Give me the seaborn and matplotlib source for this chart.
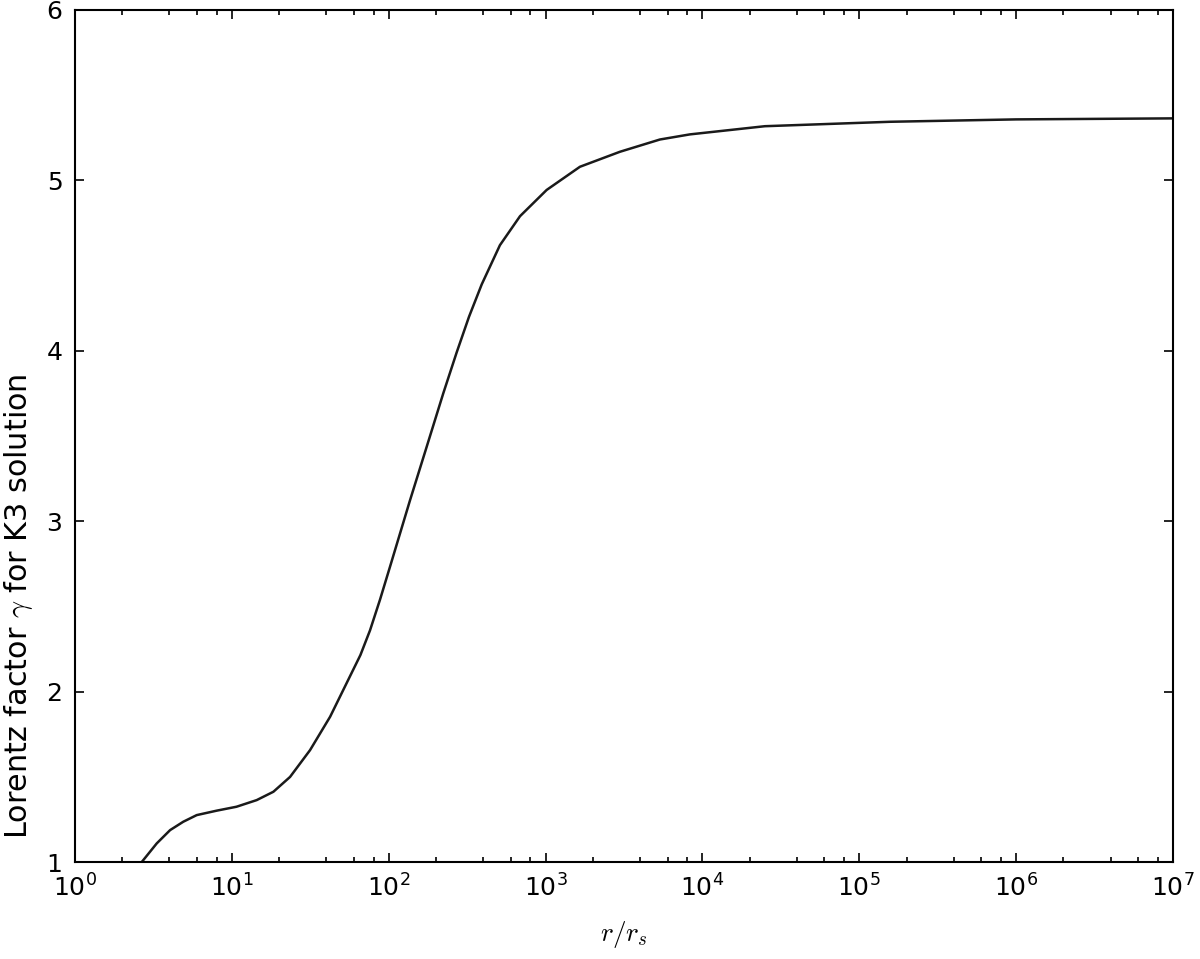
import matplotlib
matplotlib.use("Agg")
import matplotlib.pyplot as plt
import matplotlib.ticker as mticker
import seaborn as sns
import pandas as pd

# radius r/r_s
r_values = [2.66, 3.32, 4.04, 4.90, 5.97, 8.00, 10.7, 14.4, 18.4, 23.5,
            31.5, 42.3, 56.6, 66.0, 76.0, 88.0, 101.9, 136.8, 174.6, 222.8,
            271.0, 325.0, 391.7, 511.7, 687.1, 1016, 1656, 2979, 5358, 8318,
            25000, 157000, 1.0e6, 1.0e7]
# Lorentz factor gamma
gamma_values = [1.00, 1.11, 1.188, 1.237, 1.276, 1.302, 1.325, 1.364, 1.413, 1.50,
                1.657, 1.853, 2.09, 2.215, 2.36, 2.54, 2.733, 3.124, 3.437, 3.751,
                3.99, 4.20, 4.39, 4.62, 4.79, 4.944, 5.080, 5.168, 5.240, 5.270,
                5.318, 5.344, 5.358, 5.364]

x_ticks = [1, 10, 100, 1e3, 1e4, 1e5, 1e6, 1e7]
y_ticks = [1, 2, 3, 4, 5, 6]

sns.set_theme(style="ticks")
plt.rcParams.update({
    "font.family": ["DejaVu Sans"],
    "mathtext.fontset": "cm",
    "font.size": 12,
    "axes.edgecolor": "black",
    "axes.linewidth": 1.0,
    "xtick.direction": "in",
    "ytick.direction": "in",
    "xtick.top": True,
    "ytick.right": True,
    "xtick.major.size": 4.5,
    "ytick.major.size": 4.5,
    "xtick.minor.size": 2.2,
    "ytick.minor.size": 2.2,
    "xtick.major.width": 0.8,
    "ytick.major.width": 0.8,
    "xtick.minor.width": 0.8,
    "xtick.major.pad": 6,
    "ytick.major.pad": 6,
    "xtick.labelsize": 12,
    "ytick.labelsize": 12,
    "xtick.color": "black",
    "ytick.color": "black",
    "text.color": "black",
    "axes.labelcolor": "black",
})

df = pd.DataFrame({"r": r_values, "gamma": gamma_values})

fig = plt.figure(figsize=(8, 959 / 150), dpi=150)
ax = fig.add_axes([0.0625, 0.101, 0.915, 0.8886])

sns.lineplot(data=df, x="r", y="gamma", ax=ax, color="#1a1a1a", linewidth=1.2,
             sort=False)

ax.set_xscale("log")
ax.set_xlim(1, 1e7)
ax.set_ylim(1, 6)
ax.set_xticks(x_ticks)
ax.set_yticks(y_ticks)
ax.xaxis.set_major_formatter(mticker.LogFormatterSciNotation())
ax.xaxis.set_minor_locator(mticker.LogLocator(base=10, subs=[2, 4, 6, 8], numticks=100))
ax.xaxis.set_minor_formatter(mticker.NullFormatter())
ax.set_yticklabels([str(v) for v in y_ticks])

ax.set_xlabel(r"$r/r_s$", fontsize=13, labelpad=8)
ax.set_ylabel(r"Lorentz factor $\gamma$ for K3 solution", fontsize=14.5)
ax.yaxis.set_label_coords(-0.036, 0.30)

fig.savefig("out.png", dpi=150)
